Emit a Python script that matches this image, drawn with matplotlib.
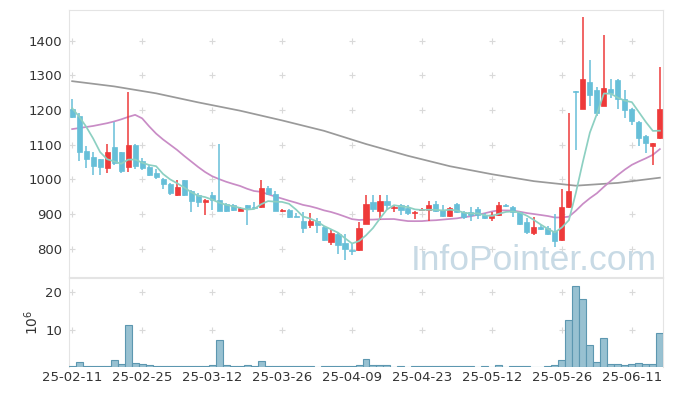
import numpy as np
import matplotlib
matplotlib.use('Agg')
import matplotlib.pyplot as plt

# trading-day tick labels (every 10 sessions)
tick_labels = ['25-02-11', '25-02-25', '25-03-12', '25-03-26', '25-04-09',
               '25-04-23', '25-05-12', '25-05-26', '25-06-11']

opens = [1203, 1183, 1081, 1064, 1058, 1034, 1093, 1078, 1036, 1099,
         1052, 1035, 1018, 1002, 988, 954, 997, 968, 956, 934,
         954, 942, 928, 925, 910, 925, 920, 920, 976, 959,
         910, 912, 895, 881, 870, 881, 864, 820, 844, 818,
         798, 796, 873, 934, 910, 939, 918, 925, 917, 903,
         913, 913, 930, 913, 896, 930, 905, 905, 915, 898,
         889, 898, 926, 922, 905, 876, 847, 864, 859, 852,
         825, 920, 1256, 1204, 1282, 1258, 1212, 1260, 1287, 1232,
         1202, 1166, 1126, 1097, 1119]
highs = [1231, 1192, 1096, 1079, 1060, 1101, 1164, 1080, 1251, 1101,
         1062, 1041, 1029, 1004, 990, 999, 998, 970, 960, 945,
         965, 1101, 932, 928, 920, 926, 934, 999, 980, 966,
         915, 915, 902, 907, 903, 890, 867, 854, 846, 844,
         815, 876, 956, 954, 956, 954, 926, 930, 927, 908,
         918, 939, 939, 925, 920, 931, 910, 922, 920, 902,
         905, 934, 929, 923, 906, 889, 891, 870, 866, 900,
         973, 1192, 1256, 1469, 1343, 1265, 1417, 1289, 1288, 1258,
         1205, 1167, 1127, 1106, 1323]
lows = [1177, 1052, 1033, 1012, 1014, 1019, 1042, 1019, 1021, 1031,
        1028, 1010, 1000, 973, 955, 952, 952, 907, 920, 898,
        912, 908, 906, 908, 908, 869, 915, 918, 955, 908,
        906, 890, 891, 847, 860, 845, 824, 811, 785, 767,
        782, 795, 872, 905, 883, 915, 905, 898, 898, 886,
        908, 881, 905, 893, 893, 904, 885, 879, 885, 886,
        879, 895, 922, 893, 870, 843, 841, 853, 840, 806,
        824, 918, 1084, 1203, 1212, 1183, 1211, 1234, 1202, 1176,
        1157, 1097, 1077, 1043, 1116]
closes = [1181, 1079, 1059, 1039, 1036, 1078, 1048, 1024, 1099, 1038,
          1033, 1014, 1007, 986, 961, 977, 954, 939, 934, 942,
          941, 910, 908, 913, 918, 917, 918, 976, 959, 910,
          913, 891, 893, 859, 881, 870, 826, 846, 810, 801,
          795, 860, 929, 915, 939, 925, 921, 913, 903, 907,
          916, 925, 910, 896, 917, 905, 893, 898, 898, 889,
          896, 925, 924, 905, 873, 850, 864, 857, 843, 823,
          922, 968, 1252, 1290, 1243, 1190, 1263, 1248, 1233, 1200,
          1169, 1120, 1105, 1105, 1203]
# volume, millions
volume = [0.4, 1.35, 0.4, 0.4, 0.4, 0.4, 1.9, 0.8, 11.2, 1.0,
          0.7, 0.45, 0.4, 0.4, 0.2, 0.2, 0.2, 0.2, 0.4, 0.2,
          0.45, 7.2, 0.5, 0.2, 0.2, 0.5, 0.2, 1.6, 0.2, 0.4,
          0.2, 0.4, 0.2, 0.2, 0.2, 0.0, 0.2, 0.4, 0.2, 0.2,
          0.2, 0.5, 2.2, 0.5, 0.5, 0.5, 0.0, 0.2, 0.0, 0.2,
          0.2, 0.2, 0.2, 0.2, 0.2, 0.2, 0.2, 0.2, 0.0, 0.2,
          0.0, 0.6, 0.0, 0.2, 0.2, 0.2, 0.0, 0.0, 0.2, 0.6,
          2.0, 12.7, 21.8, 18.2, 5.9, 1.45, 7.8, 0.8, 0.8, 0.55,
          0.8, 1.05, 0.8, 0.8, 9.1]

# moving-average values before the window fills
ma5_head = [1205, 1181, 1152, 1118]
ma20_head = [1145, 1148, 1151, 1154, 1158, 1162, 1167, 1173, 1180, 1186,
             1176, 1153, 1132, 1115, 1100, 1085, 1068, 1052, 1036]
# long moving average, sampled every 6 sessions
long_ma_idx = [0, 6, 12, 18, 24, 30, 36, 42, 48, 54, 60, 66, 72, 78, 84]
long_ma = [1283, 1268, 1248, 1222, 1198, 1170, 1140, 1102, 1068, 1038,
           1015, 995, 982, 990, 1005]

n = len(closes)
x = np.arange(n)
c = np.array(closes, dtype=float)
ma5 = np.convolve(c, np.ones(5) / 5, mode='valid')
ma5 = np.concatenate([ma5_head, ma5])
ma20 = np.convolve(c, np.ones(20) / 20, mode='valid')
ma20 = np.concatenate([ma20_head, ma20])

UP = '#ee3a3a'
DOWN = '#67bfd8'
GRID = '#d9d9d9'
SPINE = '#e4e4e4'
TXT = '#333333'

fig = plt.figure(figsize=(6.73, 3.96), dpi=100)
ax = fig.add_axes([69 / 673, 1 - 277 / 396, 594 / 673, 267 / 396])
ax2 = fig.add_axes([69 / 673, 1 - 367 / 396, 594 / 673, 89.5 / 396])

xlim = (-0.45, n - 1 + 0.45)
ticks = np.arange(0, n, 10)

# price panel
ax.plot(long_ma_idx, long_ma, color='#9a9a9a', lw=1.25, zorder=2)
ax.plot(x, ma20, color='#c98cc6', lw=1.25, zorder=2)
ax.plot(x, ma5, color='#8dd0c2', lw=1.25, zorder=4)

for i in range(n):
    o, h, l, cl = opens[i], highs[i], lows[i], closes[i]
    col = UP if cl > o else DOWN
    ax.vlines(i, l, h, color=col, lw=1.1, zorder=3)
    bottom = min(o, cl)
    height = max(abs(cl - o), 1.5)
    ax.bar(i, height, bottom=bottom, width=0.72, color=col, edgecolor=col,
           lw=0.5, zorder=3)

ax.set_xlim(*xlim)
ax.set_ylim(719, 1488)
ax.set_yticks([800, 900, 1000, 1100, 1200, 1300, 1400])
ax.set_xticks(ticks)
ax.tick_params(axis='both', length=0, labelsize=9.5, colors=TXT)
ax.tick_params(axis='x', labelbottom=False)
ax.tick_params(axis='y', pad=5)
gx, gy = np.meshgrid(ticks, [800, 900, 1000, 1100, 1200, 1300, 1400])
ax.scatter(gx.ravel(), gy.ravel(), marker='+', s=18, color=GRID, lw=0.8, zorder=1)
for s in ax.spines.values():
    s.set_color(SPINE)

ax.text(0.99, 0.025, 'InfoPointer.com', transform=ax.transAxes, ha='right',
        va='baseline', fontsize=25.5, color='#c8dae5', family='Liberation Sans',
        zorder=5)

# volume panel
ax2.bar(x, volume, width=1.0, color='#98c1d1', edgecolor='#5c97b0', lw=0.8,
        zorder=3)
ax2.set_xlim(*xlim)
ax2.set_ylim(0, 24)
ax2.set_yticks([10, 20])
ax2.set_xticks(ticks)
ax2.set_xticklabels(tick_labels)
ax2.tick_params(axis='both', length=0, labelsize=9.5, colors=TXT)
ax2.tick_params(axis='y', pad=5)
ax2.tick_params(axis='x', pad=3)
gx, gy = np.meshgrid(ticks, [10, 20])
ax2.scatter(gx.ravel(), gy.ravel(), marker='+', s=18, color=GRID, lw=0.8, zorder=1)
for s in ax2.spines.values():
    s.set_color(SPINE)
ax2.spines['bottom'].set_visible(False)
fig.text(32 / 673, 1 - 322 / 396, '$10^6$', rotation=90, ha='center',
         va='center', fontsize=10, color=TXT)

fig.savefig('out.png', dpi=100)
